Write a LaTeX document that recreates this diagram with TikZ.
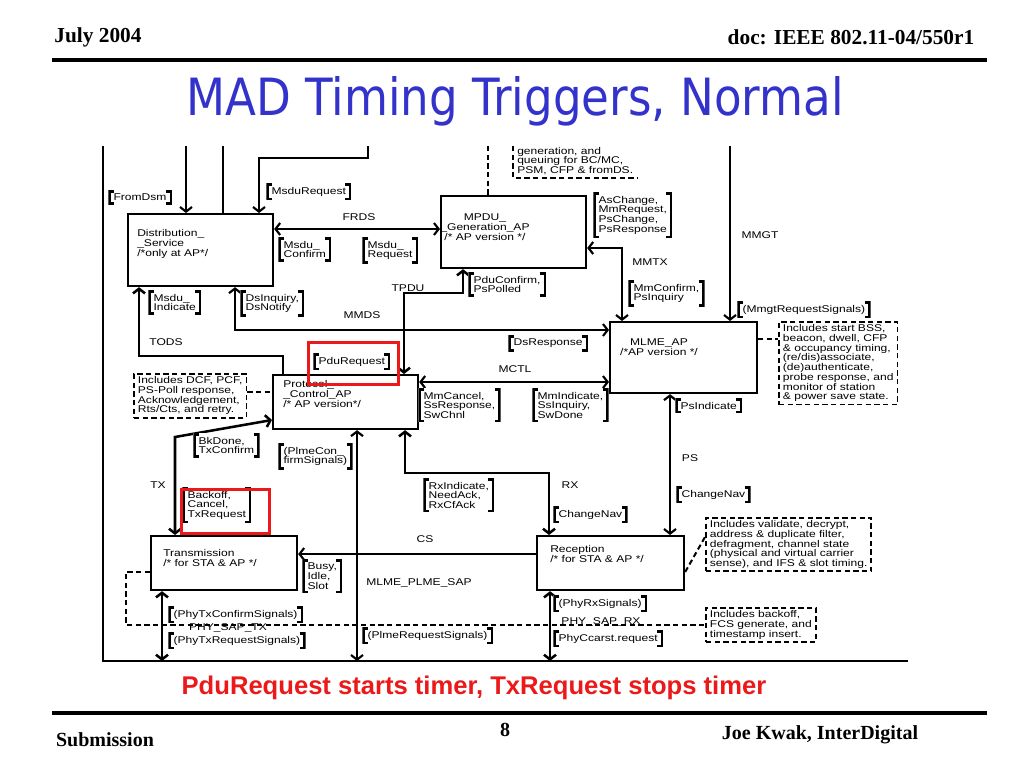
\documentclass[tikz,border=0pt]{standalone}
\usepackage{fontspec}
\setmainfont{Liberation Sans}
\newfontfamily\dfont[FakeStretch=1.23]{Liberation Sans}
\newfontfamily\tfont[FakeStretch=0.88]{DejaVu Sans}
\newfontfamily\hfont{Liberation Serif}
\usetikzlibrary{arrows.meta}
\definecolor{titleblue}{RGB}{51,51,204}
\definecolor{markred}{RGB}{235,25,25}
\begin{document}
\begin{tikzpicture}[x=0.75pt,y=-0.75pt,
  every node/.style={inner sep=0pt},
  dtxt/.style={font={\dfont\fontsize{7.35pt}{7.3pt}\selectfont}, align=left, inner sep=0pt},
  blk/.style={draw, line width=1.6pt, anchor=north west, inner sep=0pt},
  note/.style={dtxt, draw, line width=1.4pt, dash pattern=on 4pt off 2.5pt, anchor=north west, inner xsep=3pt, inner ysep=2pt},
  brk/.style={dtxt, anchor=north west, inner xsep=4pt, inner ysep=2.8pt, fill=white,
    path picture={
      \draw[line width=1.7pt]
        ([xshift=4.5pt,yshift=-0.85pt]path picture bounding box.north west) -- ([xshift=0.85pt,yshift=-0.85pt]path picture bounding box.north west)
        -- ([xshift=0.85pt,yshift=0.85pt]path picture bounding box.south west) -- ([xshift=4.5pt,yshift=0.85pt]path picture bounding box.south west);
      \draw[line width=1.7pt]
        ([xshift=-4.5pt,yshift=-0.85pt]path picture bounding box.north east) -- ([xshift=-0.85pt,yshift=-0.85pt]path picture bounding box.north east)
        -- ([xshift=-0.85pt,yshift=0.85pt]path picture bounding box.south east) -- ([xshift=-4.5pt,yshift=0.85pt]path picture bounding box.south east);
    }},
  lbl/.style={dtxt, anchor=center},
  con/.style={line width=1.6pt},
  thk/.style={line width=1.9pt},
  arr/.style={-{Straight Barb[length=3.5pt,width=9pt]}},
  arrs/.style={{Straight Barb[length=3.5pt,width=9pt]}-{Straight Barb[length=3.5pt,width=9pt]}},
  dsh/.style={line width=1.5pt, dash pattern=on 4pt off 2.5pt},
  redbox/.style={draw=markred, line width=2.6pt, anchor=north west, inner sep=0pt},
  hdr/.style={font={\hfont\bfseries\fontsize{16pt}{18pt}\selectfont}},
  ftr/.style={font={\hfont\bfseries\fontsize{15pt}{17pt}\selectfont}}
]
\useasboundingbox[fill=white] (0,0) rectangle (1024,768);

% header and footer
\node[hdr] (hdate) at (98,37) {July 2004};
\node[hdr] (hdoc) at (851,37) {doc: IEEE 802.11-04/550r1};
\coordinate (hl1) at (52,60); \coordinate (hl2) at (987,60);
\draw[line width=3pt] (hl1) -- (hl2);
\node[font={\tfont\fontsize{38.5pt}{40pt}\selectfont}, text=titleblue] (title) at (515,101) {MAD Timing Triggers, Normal};
\node[font={\bfseries\fontsize{19.2pt}{21pt}\selectfont}, text=markred] (sub) at (474,688) {PduRequest starts timer, TxRequest stops timer};
\coordinate (fl1) at (52,713); \coordinate (fl2) at (987,713);
\draw[line width=3pt] (fl1) -- (fl2);
\node[ftr] (fsub) at (105,740) {Submission};
\node[ftr] (fnum) at (505,730) {8};
\node[ftr] (fauth) at (820,735) {Joe Kwak, InterDigital};

% frame and free ends
\coordinate (tl) at (103,146);
\coordinate (bl) at (103,661);
\coordinate (br) at (908,661);
\coordinate (t1) at (186,146);
\coordinate (t2) at (223,146);
\coordinate (t3) at (368,146);
\coordinate (t4) at (730,146);
\coordinate (t5) at (488,146);

% boxes
\node[blk, minimum width=108.75pt, minimum height=54pt] (dist) at (127,213) {};
\node[blk, minimum width=108.75pt, minimum height=54pt] (mpdu) at (440,195) {};
\node[blk, minimum width=110.25pt, minimum height=53.25pt] (mlme) at (609,321) {};
\node[blk, minimum width=108.75pt, minimum height=40.5pt] (prot) at (272,374) {};
\node[blk, minimum width=109.5pt, minimum height=40.5pt] (trans) at (150,535) {};
\node[blk, minimum width=110.25pt, minimum height=40.5pt] (recp) at (536,535) {};

\node[dtxt, anchor=west] (distT) at (137,244) {Distribution\_\\\_Service\\/*only at AP*/};
\node[dtxt, align=center] (mpduT) at (485,227) {MPDU\_\\\_Generation\_AP\\/* AP version */};
\node[dtxt, align=center] (mlmeT) at (659,347) {MLME\_AP\\/*AP version */};
\node[dtxt, anchor=west] (protT) at (283,394) {Protocol\_\\\_Control\_AP\\/* AP version*/};
\node[dtxt, anchor=west] (transT) at (163,558) {Transmission\\/* for STA \& AP */};
\node[dtxt, anchor=west] (recpT) at (550,554) {Reception\\/* for STA \& AP */};

% notes
\node[dtxt, anchor=west] (ngenT) at (517,161) {generation, and\\queuing for BC/MC,\\PSM, CFP \& fromDS.};
\draw[dsh] (t5 -| 513,0) -- (513,178) -- (638,178);
\node[note] (nmlme) at (778,321) {Includes start BSS,\\beacon, dwell, CFP\\\& occupancy timing,\\(re/dis)associate,\\(de)authenticate,\\probe response, and\\monitor of station\\\& power save state.};
\node[note] (ndcf) at (133,373) {Includes DCF, PCF,\\PS-Poll response,\\Acknowledgement,\\Rts/Cts, and retry.};
\node[note] (nrx) at (705,517) {Includes validate, decrypt,\\address \& duplicate filter,\\defragment, channel state\\(physical and virtual carrier\\sense), and IFS \& slot timing.};
\node[note] (nbk) at (705,607) {Includes backoff,\\FCS generate, and\\timestamp insert.};

% connectors
\draw[con] (tl) -- (bl) -- (br);
\draw[con,arr] (t1) -- (t1 |- dist.north);
\draw[con] (t2) -- (t2 |- dist.north);
\draw[con,arr] (t3) -- (368,158) -| (259,0 |- dist.north);
\draw[con,arrs] (dist.east |- 0,229) -- (mpdu.west |- 0,229);
\draw[thk,arr] (283,0 |- prot.north) -- (283,356) -- (139,356) -- (139,0 |- dist.south);
\draw[con,arrs] (235,0 |- dist.south) |- (mlme.west |- 0,330);
\draw[thk,arrs] (404,0 |- prot.north) -- (404,293) -| (463,0 |- mpdu.south);
\draw[con,arrs] (mpdu.east |- 0,248) -| (622,0 |- mlme.north);
\draw[con,arr] (t4) -- (t4 |- mlme.north);
\draw[con,arrs] (prot.east |- 0,382) -- (mlme.west |- 0,382);
\draw[con,arrs] (670,0 |- mlme.south) -- (670,0 |- recp.north);
\draw[thk,arrs] (175,0 |- trans.north) -- (175,437) -- (prot.west |- 0,420);
\draw[con,arrs] (357,0 |- prot.south) -- (357,0 |- bl);
\draw[thk,arrs] (405,0 |- prot.south) -- (405,473) -| (549,0 |- recp.north);
\draw[con,arr] (recp.west |- 0,554) -- (trans.east |- 0,554);
\draw[thk,arrs] (162,0 |- trans.south) -- (162,0 |- bl);
\draw[thk,arrs] (550,0 |- recp.south) -- (550,0 |- bl);

% dashed connectors
\draw[dsh] (t5) -- (t5 |- mpdu.north);
\draw[dsh] (mlme.east |- 0,339) -- (nmlme.west |- 0,339);
\draw[dsh] (ndcf.east |- 0,392) -- (prot.west |- 0,392);
\draw[dsh] (trans.west |- 0,572) -- (126,572) |- (nbk.west |- 0,625);
\draw[dsh] (recp.east |- 0,572) -- (nrx.west |- 0,537);

% bracket labels
\node[brk] (b1) at (108,190) {FromDsm};
\node[brk] (b2) at (266,183) {MsduRequest};
\node[brk] (b3) at (278,237) {Msdu\_\\Confirm};
\node[brk] (b4) at (362,237) {Msdu\_\\Request};
\node[brk] (b5) at (148,290) {Msdu\_\\Indicate};
\node[brk] (b6) at (240,290) {DsInquiry,\\DsNotify};
\node[brk] (b7) at (468,272) {PduConfirm,\\PsPolled};
\node[brk] (b8) at (593,192) {AsChange,\\MmRequest,\\PsChange,\\PsResponse};
\node[brk] (b9) at (628,280) {MmConfirm,\\PsInquiry};
\node[brk] (b10) at (737,301) {(MmgtRequestSignals)};
\node[brk] (b11) at (508,335) {DsResponse};
\node[brk] (b12) at (313,353) {PduRequest};
\node[brk] (b13) at (418,388) {MmCancel,\\SsResponse,\\SwChnl};
\node[brk] (b14) at (532,388) {MmIndicate,\\SsInquiry,\\SwDone};
\node[brk] (b15) at (675,398) {PsIndicate};
\node[brk] (b16) at (193,433) {BkDone,\\TxConfirm};
\node[brk] (b17) at (278,443) {(PlmeCon\_\\firmSignals)};
\node[brk] (b18) at (182,487) {Backoff,\\Cancel,\\TxRequest};
\node[brk] (b19) at (423,478) {RxIndicate,\\NeedAck,\\RxCfAck};
\node[brk] (b20) at (553,506) {ChangeNav};
\node[brk] (b21) at (676,486) {ChangeNav};
\node[brk] (b22) at (302,559) {Busy,\\Idle,\\Slot};
\node[brk] (b23) at (168,606) {(PhyTxConfirmSignals)};
\node[brk] (b24) at (168,632) {(PhyTxRequestSignals)};
\node[brk] (b25) at (362,627) {(PlmeRequestSignals)};
\node[brk] (b26) at (553,595) {(PhyRxSignals)};
\node[brk] (b27) at (553,630) {PhyCcarst.request};

% plain labels
\node[lbl] (lFRDS) at (359,217) {FRDS};
\node[lbl] (lTODS) at (166,342) {TODS};
\node[lbl] (lMMDS) at (362,315) {MMDS};
\node[lbl] (lTPDU) at (408,288) {TPDU};
\node[lbl] (lMMTX) at (650,262) {MMTX};
\node[lbl] (lMMGT) at (760,235) {MMGT};
\node[lbl] (lMCTL) at (515,369) {MCTL};
\node[lbl] (lPS) at (690,458) {PS};
\node[lbl] (lTX) at (158,485) {TX};
\node[lbl] (lRX) at (570,485) {RX};
\node[lbl] (lCS) at (425,539) {CS};
\node[lbl] (lMPS) at (419,583) {MLME\_PLME\_SAP};
\node[lbl] (lPTX) at (228,628) {PHY\_SAP\_TX};
\node[lbl] (lPRX) at (601,622) {PHY\_SAP\_RX};

% red highlight boxes
\node[redbox, minimum width=67.5pt, minimum height=31.5pt] (r1) at (307,341) {};
\node[redbox, minimum width=66pt, minimum height=33pt] (r2) at (180,488) {};
\end{tikzpicture}
\end{document}
